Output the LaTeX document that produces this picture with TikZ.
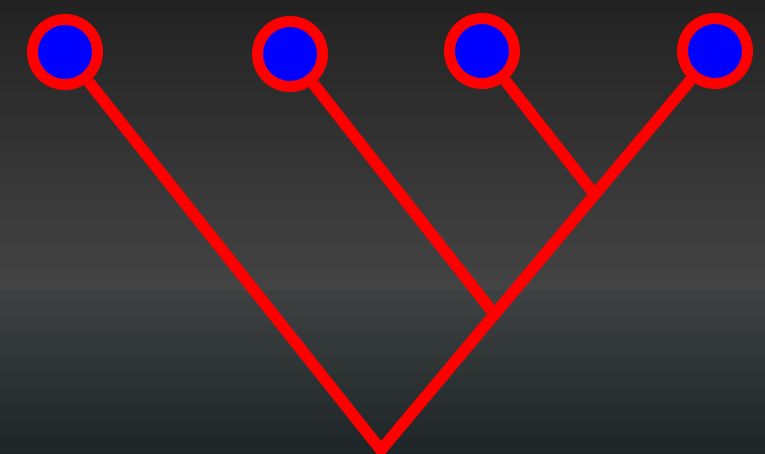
\documentclass[tikz,border=0pt]{standalone}
\definecolor{bgtop}{HTML}{222222}
\definecolor{bgmid}{HTML}{444444}
\definecolor{bglow}{HTML}{3E4141}
\definecolor{bgbot}{HTML}{1E2527}
\begin{document}
\begin{tikzpicture}[x=1pt,y=-1pt,
    leaf/.style={circle,draw=red,fill=blue,line width=11pt,minimum size=65pt,inner sep=0pt},
    branch/.style={draw=red,line width=11.5pt}]
        \useasboundingbox (0,0) rectangle (765,454);
        \shade[top color=bgtop,bottom color=bgmid] (0,0) rectangle (765,290);
        \shade[top color=bglow,bottom color=bgbot] (0,290) rectangle (765,454);
        \coordinate (R) at (381,450);
        \coordinate (J2) at (495,315);
        \coordinate (J1) at (595,195);
        \node[leaf] (A) at (65,52) {};
        \node[leaf] (B) at (290,54) {};
        \node[leaf] (C) at (482,51) {};
        \node[leaf] (D) at (715,51) {};
        \draw[branch] (A) -- (R) -- (D);
        \draw[branch] (B) -- (J2);
        \draw[branch] (C) -- (J1);
    \end{tikzpicture}
\end{document}
